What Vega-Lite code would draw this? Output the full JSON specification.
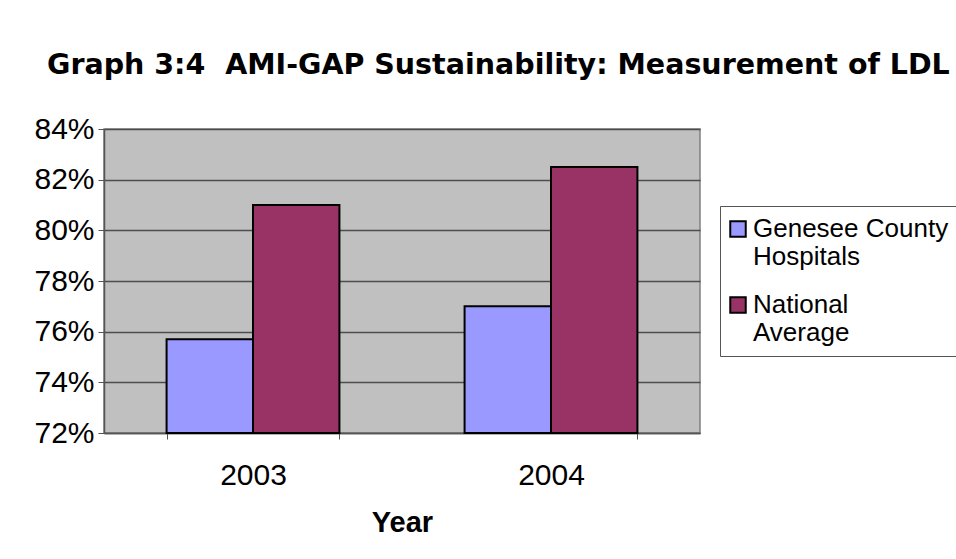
{
  "$schema": "https://vega.github.io/schema/vega-lite/v6.json",
  "autosize": {"type": "none"},
  "padding": {"left": 104, "top": 129, "right": 256, "bottom": 126},
  "width": 596,
  "height": 304,
  "background": "white",
  "title": {
    "text": "Graph 3:4\u00a0\u00a0AMI-GAP Sustainability: Measurement of LDL",
    "anchor": "start",
    "frame": "group",
    "dx": -57,
    "offset": 35,
    "font": "DejaVu Sans",
    "fontSize": 28.5,
    "fontWeight": "bold",
    "color": "black"
  },
  "data": {
    "values": [
      {"year": "2003", "series": "Genesee County Hospitals", "value": 0.757},
      {"year": "2003", "series": "National Average", "value": 0.81},
      {"year": "2004", "series": "Genesee County Hospitals", "value": 0.77},
      {"year": "2004", "series": "National Average", "value": 0.825}
    ]
  },
  "mark": {"type": "bar", "stroke": "black", "strokeWidth": 2},
  "encoding": {
    "x": {
      "field": "year",
      "type": "nominal",
      "scale": {"paddingInner": 0.42, "paddingOuter": 0.21},
      "axis": {
        "title": "Year",
        "titleFont": "Liberation Sans",
        "titleFontSize": 29,
        "titleFontWeight": "bold",
        "titleColor": "black",
        "titlePadding": 18,
        "labelAngle": 0,
        "labelFont": "Liberation Sans",
        "labelFontSize": 30,
        "labelColor": "black",
        "labelPadding": 21,
        "tickBand": "extent",
        "tickSize": 6,
        "tickColor": "#555555",
        "domainColor": "#555555",
        "domainWidth": 1.5
      }
    },
    "xOffset": {"field": "series", "type": "nominal", "sort": ["Genesee County Hospitals", "National Average"], "scale": {"paddingInner": 0, "paddingOuter": 0}},
    "y": {
      "field": "value",
      "type": "quantitative",
      "scale": {"domain": [0.72, 0.84], "zero": false, "nice": false, "clamp": true},
      "axis": {
        "title": null,
        "format": ".0%",
        "values": [0.72, 0.74, 0.76, 0.78, 0.8, 0.82, 0.84],
        "labelFont": "Liberation Sans",
        "labelFontSize": 30,
        "labelColor": "black",
        "labelPadding": 4,
        "tickSize": 6,
        "tickColor": "#555555",
        "domainColor": "#555555",
        "domainWidth": 1.5,
        "grid": true,
        "gridColor": "#4d4d4d",
        "gridWidth": 1.5
      }
    },
    "color": {
      "field": "series",
      "type": "nominal",
      "scale": {"domain": ["Genesee County Hospitals", "National Average"], "range": ["#9999FF", "#993366"]},
      "legend": {
        "title": null,
        "orient": "none",
        "legendX": 616,
        "legendY": 77,
        "symbolType": "square",
        "symbolSize": 240,
        "symbolStrokeColor": "black",
        "symbolStrokeWidth": 2,
        "symbolOffset": -5,
        "labelOffset": 2,
        "labelFont": "Liberation Sans",
        "labelFontSize": 26,
        "labelColor": "black",
        "labelLimit": 400,
        "labelExpr": "datum.label == 'Genesee County Hospitals' ? ['Genesee County', 'Hospitals'] : ['National', 'Average']",
        "labelBaseline": "alphabetic",
        "labelLineHeight": 28,
        "rowPadding": 22,
        "padding": 10,
        "strokeColor": "#555555",
        "fillColor": "white",
        "encode": {"labels": {"update": {"dy": {"value": 8}}}}
      }
    }
  },
  "config": {
    "view": {"fill": "#C0C0C0", "stroke": "#808080", "strokeWidth": 1.5}
  }
}
